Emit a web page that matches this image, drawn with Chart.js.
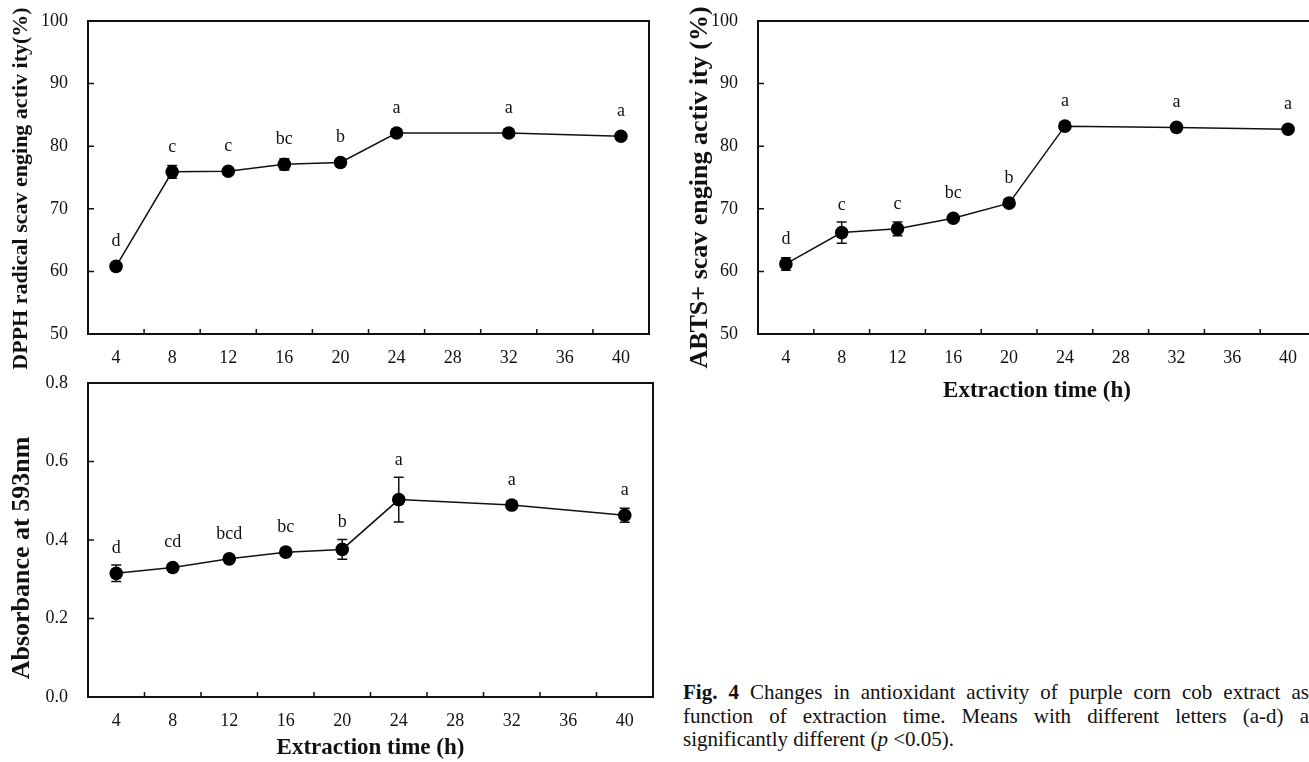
<!DOCTYPE html>
<html>
<head>
<meta charset="utf-8">
<script src="https://cdn.jsdelivr.net/npm/chart.js@4.4.1/dist/chart.umd.min.js"></script>
<style>
  html, body { margin: 0; padding: 0; background: #fff; }
  body { width: 1309px; height: 762px; overflow: hidden; position: relative; }
  canvas { position: absolute; }
  #caption { position: absolute; left: 683px; top: 681px; width: 626px; font-family: "Liberation Serif", serif; font-size: 21px; line-height: 23.5px; color: #111; }
  #caption .j { text-align: justify; text-align-last: justify; white-space: nowrap; }
</style>
</head>
<body>
<canvas id="dpphChart" width="660" height="375" style="left:0px;top:0px"></canvas>
<canvas id="abtsChart" width="644" height="410" style="left:684px;top:0px"></canvas>
<canvas id="frapChart" width="665" height="392" style="left:0px;top:370px"></canvas>
<div id="caption">
  <div class="j"><b>Fig. 4</b> Changes in antioxidant activity of purple corn cob extract as</div>
  <div class="j">function of extraction time. Means with different letters (a-d) a</div>
  <div>significantly different (<i>p</i> &lt;0.05).</div>
</div>
<script>
var TIME_LABELS = ['4', '8', '12', '16', '20', '24', '28', '32', '36', '40'];

// nothing measured at 28 h and 36 h
var DPPH_VALUES = [60.8, 75.9, 76.0, 77.1, 77.4, 82.1, null, 82.1, null, 81.6];
var DPPH_ERRORS = [0.4, 1.0, 0.5, 0.9, 0.5, 0.4, null, 0.4, null, 0.4];
var DPPH_LETTERS = ['d', 'c', 'c', 'bc', 'b', 'a', null, 'a', null, 'a'];

var ABTS_VALUES = [61.2, 66.2, 66.8, 68.5, 70.9, 83.2, null, 83.0, null, 82.7];
var ABTS_ERRORS = [1.0, 1.7, 1.1, 0.4, 0.4, 0.4, null, 0.3, null, 0.3];
var ABTS_LETTERS = ['d', 'c', 'c', 'bc', 'b', 'a', null, 'a', null, 'a'];

var FRAP_VALUES = [0.315, 0.330, 0.352, 0.369, 0.376, 0.503, null, 0.489, null, 0.463];
var FRAP_ERRORS = [0.021, 0.006, 0.010, 0.006, 0.025, 0.057, null, 0.010, null, 0.018];
var FRAP_LETTERS = ['d', 'cd', 'bcd', 'bc', 'b', 'a', null, 'a', null, 'a'];

var SERIF = '"Liberation Serif", "Times New Roman", serif';
var INK = '#111';

// error bars under the dots, then frame, inside ticks, letters and y title on top
var decorPlugin = {
    id: 'decor',
    beforeDatasetsDraw: function(chart, args, opts) {
        var ctx = chart.ctx;
        var yScale = chart.scales.y;
        var values = chart.data.datasets[0].data;
        var points = chart.getDatasetMeta(0).data;
        ctx.save();
        ctx.strokeStyle = INK;
        ctx.lineWidth = 1.5;
        values.forEach(function(v, i) {
            if (v === null) return;
            var x = points[i].x;
            var yTop = yScale.getPixelForValue(v + opts.errors[i]);
            var yBot = yScale.getPixelForValue(v - opts.errors[i]);
            ctx.beginPath();
            ctx.moveTo(x, yTop); ctx.lineTo(x, yBot);
            ctx.moveTo(x - 5, yTop); ctx.lineTo(x + 5, yTop);
            ctx.moveTo(x - 5, yBot); ctx.lineTo(x + 5, yBot);
            ctx.stroke();
        });
        ctx.restore();
    },
    afterDatasetsDraw: function(chart, args, opts) {
        var ctx = chart.ctx;
        var area = chart.chartArea;
        var xScale = chart.scales.x;
        var yScale = chart.scales.y;
        var values = chart.data.datasets[0].data;
        var points = chart.getDatasetMeta(0).data;
        ctx.save();
        ctx.strokeStyle = INK;
        ctx.lineWidth = 2;
        ctx.strokeRect(area.left, area.top, area.right - area.left, area.bottom - area.top);
        ctx.lineWidth = 1.5;
        ctx.beginPath();
        for (var i = 1; i < xScale.ticks.length; i++) {
            var tx = (xScale.getPixelForTick(i - 1) + xScale.getPixelForTick(i)) / 2;
            ctx.moveTo(tx, area.bottom); ctx.lineTo(tx, area.bottom - 5);
        }
        yScale.ticks.forEach(function(t, k) {
            if (k === 0 || k === yScale.ticks.length - 1) return;
            var ty = yScale.getPixelForTick(k);
            ctx.moveTo(area.left, ty); ctx.lineTo(area.left + 6, ty);
        });
        ctx.stroke();

        ctx.fillStyle = INK;
        ctx.font = '18px ' + SERIF;
        ctx.textAlign = 'center';
        ctx.textBaseline = 'middle';
        values.forEach(function(v, i) {
            if (v === null || !opts.letters[i]) return;
            var yTop = yScale.getPixelForValue(v + opts.errors[i]);
            var y = Math.min(points[i].y - 25, yTop - 17);
            ctx.fillText(opts.letters[i], points[i].x, y);
        });

        // y title sits a little below the middle of the plot in the original
        var t = opts.yTitle;
        ctx.translate(t.x, (area.top + area.bottom) / 2 + t.shift);
        ctx.rotate(-Math.PI / 2);
        ctx.font = 'bold ' + t.size + 'px ' + SERIF;
        ctx.fillText(t.text, 0, 0);
        ctx.restore();
    }
};

function makeChart(canvasId, values, errors, letters, setup) {
    var xScale = {
        type: 'category',
        offset: true,
        grid: { display: false, drawTicks: false },
        border: { display: false },
        ticks: { color: INK, font: { family: SERIF, size: 18 }, padding: 13, autoSkip: false, maxRotation: 0 },
        afterFit: function(scale) {
            scale.height = setup.xHeight;
            scale.paddingLeft = 0;
            scale.paddingRight = 0;
        }
    };
    if (setup.xTitle) {
        xScale.title = { display: true, text: setup.xTitle, color: INK,
            font: { family: SERIF, size: 23, weight: 'bold' }, padding: { top: 0, bottom: setup.xTitlePad } };
    }
    return new Chart(document.getElementById(canvasId), {
        type: 'line',
        data: {
            labels: TIME_LABELS,
            datasets: [{
                data: values,
                borderColor: INK,
                borderWidth: 1.5,
                pointRadius: 6.8,
                pointBackgroundColor: '#000',
                pointBorderWidth: 0,
                tension: 0,
                spanGaps: true
            }]
        },
        options: {
            responsive: false,
            animation: false,
            layout: { padding: setup.padding, autoPadding: false },
            scales: {
                x: xScale,
                y: {
                    min: setup.yMin,
                    max: setup.yMax,
                    grid: { display: false, drawTicks: false },
                    border: { display: false },
                    ticks: {
                        stepSize: setup.yStep, color: INK, padding: 20,
                        font: { family: SERIF, size: 18 },
                        callback: setup.yFormat
                    },
                    afterFit: function(scale) {
                        scale.width = setup.yWidth;
                        scale.paddingTop = 0;
                        scale.paddingBottom = 0;
                    }
                }
            },
            plugins: {
                legend: { display: false },
                tooltip: { enabled: false },
                decor: { errors: errors, letters: letters, yTitle: setup.yTitle }
            }
        },
        plugins: [decorPlugin]
    });
}

makeChart('dpphChart', DPPH_VALUES, DPPH_ERRORS, DPPH_LETTERS, {
    yMin: 50, yMax: 100, yStep: 10,
    yFormat: function(v) { return v; },
    yTitle: { text: 'DPPH radical scav enging activ ity(%)', size: 22, x: 21, shift: 11 },
    yWidth: 88, xHeight: 41,
    padding: { top: 21, right: 11, bottom: 0, left: 0 }
});

makeChart('abtsChart', ABTS_VALUES, ABTS_ERRORS, ABTS_LETTERS, {
    yMin: 50, yMax: 100, yStep: 10,
    yFormat: function(v) { return v; },
    yTitle: { text: 'ABTS+ scav enging activ ity (%)', size: 26, x: 16, shift: 10 },
    xTitle: 'Extraction time (h)', xTitlePad: 5,
    yWidth: 74, xHeight: 76,
    padding: { top: 21, right: 12, bottom: 0, left: 0 }
});

makeChart('frapChart', FRAP_VALUES, FRAP_ERRORS, FRAP_LETTERS, {
    yMin: 0, yMax: 0.8, yStep: 0.2,
    yFormat: function(v) { return v.toFixed(1); },
    yTitle: { text: 'Absorbance at 593nm', size: 26, x: 22, shift: 18 },
    xTitle: 'Extraction time (h)', xTitlePad: 0,
    yWidth: 88, xHeight: 65,
    padding: { top: 13, right: 12, bottom: 0, left: 0 }
});
</script>
</body>
</html>
